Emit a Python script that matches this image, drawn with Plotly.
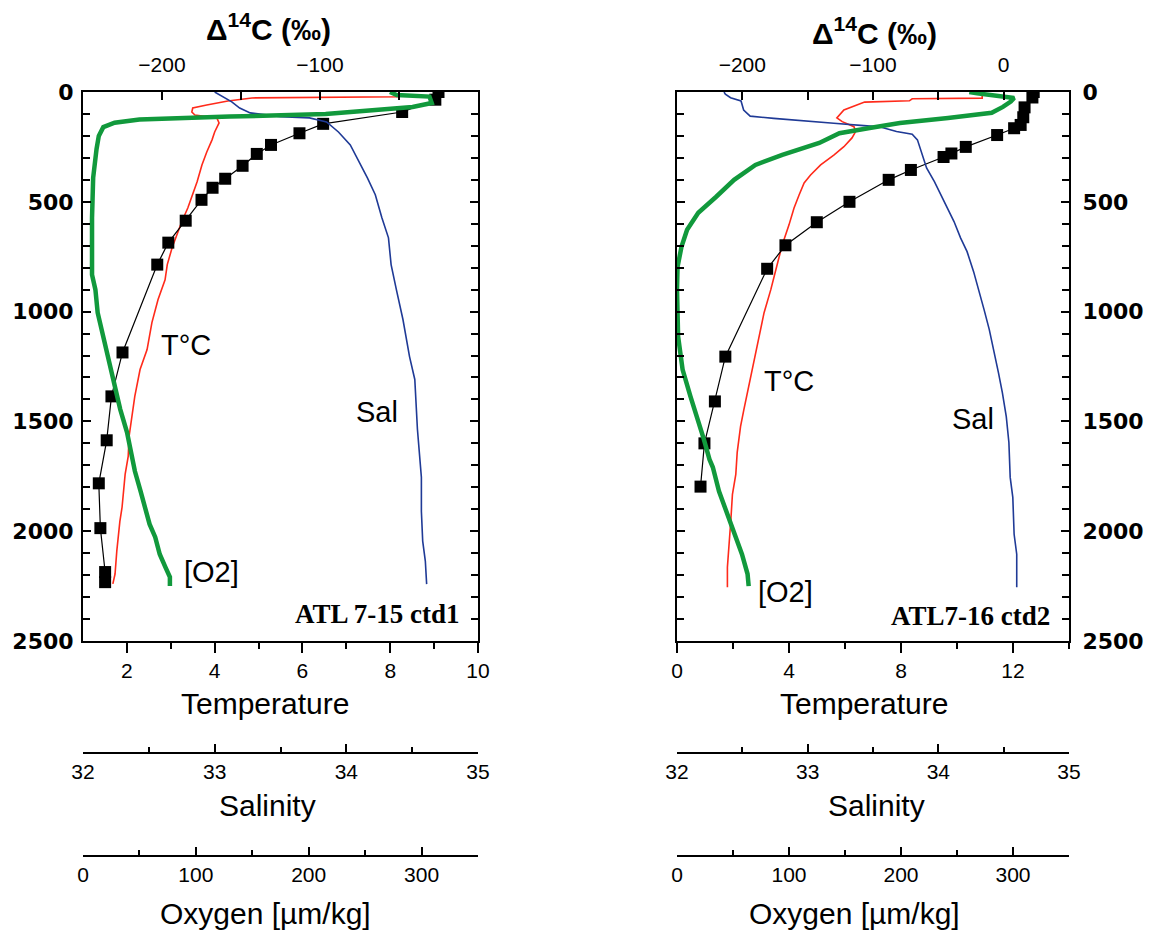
import plotly.graph_objects as go

# ---------------- data: ATL 7-15 ctd1 (left) ----------------
L_T_depth = [0, 22, 27, 41, 59, 73, 91, 105, 118, 141, 182, 218, 273, 332, 409, 468, 527, 591, 650, 709, 786,
             855, 945, 1050, 1173, 1264, 1386, 1477, 1568, 1659, 1741, 1891, 1955, 2091, 2195, 2240]
L_T = [8.2, 8.2, 4.85, 4.3, 3.82, 3.5, 3.48, 3.55, 4.05, 4.1, 4.0, 3.94, 3.82, 3.71, 3.6, 3.5, 3.39, 3.25, 3.14, 3.03, 2.92,
       2.87, 2.71, 2.57, 2.46, 2.30, 2.18, 2.12, 2.05, 2.03, 1.96, 1.89, 1.84, 1.77, 1.73, 1.68]

L_S_depth = [0, 14, 45, 73, 95, 112, 118, 136, 182, 241, 318, 391, 468, 573, 664, 786, 900, 1036, 1205, 1309,
             1536, 1673, 1755, 1909, 2045, 2136, 2241]
L_S = [33.0, 33.04, 33.13, 33.19, 33.27, 33.50, 33.72, 33.85, 33.94, 34.03, 34.10, 34.16, 34.22, 34.27, 34.32, 34.34,
       34.38, 34.43, 34.48, 34.52, 34.54, 34.56, 34.57, 34.57, 34.58, 34.60, 34.61]

L_O_depth = [0, 14, 21, 50, 68, 82, 100, 112, 117, 125, 140, 160, 200, 260, 391, 573, 832, 900, 1005, 1114, 1232,
             1341, 1445, 1550, 1659, 1727, 1818, 1891, 1968, 2027, 2105, 2164, 2209, 2250]
L_O = [272, 278, 307, 309, 292, 260, 215, 130, 90, 50, 28, 18, 14, 12, 9, 8, 8, 11, 13, 18, 24,
       28, 33, 39, 43, 46, 51, 55, 59, 64, 68, 73, 77, 77]

L_C_depth = [0, 35, 91, 145, 188, 241, 282, 336, 395, 436, 491, 586, 686, 786, 1186, 1386, 1586, 1782, 1986, 2186, 2232]
L_C = [-25, -27, -48, -98, -113, -131, -140, -149, -160, -168, -175, -185, -196, -203, -225, -232, -235, -240, -239,
       -236, -236]

# ---------------- data: ATL7-16 ctd2 (right) ----------------
R_T_depth = [0, 28, 31, 40, 46, 55, 82, 118, 135, 158, 180, 209, 249, 287, 332, 378, 414, 469, 528, 605, 651, 696,
             755, 817, 900, 1005, 1114, 1218, 1323, 1445, 1523, 1641, 1741, 1832, 1955, 2045, 2164, 2255]
R_T = [10.9, 10.9, 8.4, 8.3, 6.7, 6.5, 5.96, 5.71, 5.9, 6.32, 6.38, 6.25, 5.96, 5.6, 5.13, 4.77, 4.54, 4.36, 4.18, 4.0,
       3.88, 3.76, 3.64, 3.52, 3.35, 3.11, 2.93, 2.75, 2.57, 2.39, 2.27, 2.15, 2.10, 1.98, 1.92, 1.86, 1.80, 1.80]

R_S_depth = [0, 10, 26, 41, 82, 110, 120, 127, 142, 153, 158, 180, 192, 218, 271, 346, 408, 469, 528, 590, 664, 727,
             818, 900, 991, 1082, 1187, 1278, 1369, 1478, 1596, 1755, 1846, 2014, 2105, 2255]
R_S = [32.36, 32.37, 32.41, 32.49, 32.51, 32.56, 32.74, 32.87, 33.20, 33.43, 33.55, 33.68, 33.80, 33.84, 33.87, 33.91,
       33.97, 34.02, 34.07, 34.12, 34.17, 34.22, 34.27, 34.31, 34.35, 34.39, 34.43, 34.46, 34.49, 34.52, 34.54, 34.55,
       34.57, 34.58, 34.60, 34.60]

R_O_depth = [0, 6, 27, 44, 68, 95, 118, 141, 164, 188, 232, 286, 332, 400, 477, 550, 627, 705, 796, 900, 1114, 1264,
             1386, 1477, 1582, 1673, 1709, 1818, 1923, 2014, 2105, 2195, 2250]
R_O = [261, 268, 301, 298, 291, 281, 242, 199, 172, 145, 127, 94, 70, 51, 35, 19, 9, 4, 0.5, 0, 1, 5,
       12, 18, 24, 29, 32, 37.5, 45, 51, 58, 63, 64]

R_C_depth = [0, 25, 70, 115, 150, 165, 196, 250, 280, 296, 355, 400, 500, 593, 698, 805, 1205, 1409, 1600, 1797]
R_C = [23, 22, 16, 15, 13, 8, -5, -29, -40, -46, -71, -88, -118, -143, -167, -181, -213, -221, -229, -232]

# tick values
DEPTH_TICKS = [0, 500, 1000, 1500, 2000, 2500]
L_TEMP_TICKS = [2, 4, 6, 8, 10]
R_TEMP_TICKS = [0, 4, 8, 12]
L_C14_TICKS = [-200, -100]
R_C14_TICKS = [-200, -100, 0]
SAL_TICKS = [32, 33, 34, 35]
OXY_TICKS = [0, 100, 200, 300]

# ---------------- geometry (page pixels -> paper) ----------------
OFF = 8  # default page body margin
W, H = 1157 - OFF, 936 - OFF
def fx(px):
    return (px - OFF) / W
def fy(py):
    return 1 - (py - OFF) / H

LDOM = [fx(83), fx(478)]
RDOM = [fx(677), fx(1069)]
YDOM = [fy(641), fy(92)]
SAL_POS = fy(753)
OXY_POS = fy(856)

RED = "#ff2a1a"
BLUE = "#1f3a96"
GREEN = "#11993c"
FONT = "Liberation Sans"

fig = go.Figure()

def add_panel(suffix_t, suffix_c, suffix_s, suffix_o, yax, T_d, T, S_d, S, O_d, O, C_d, C):
    fig.add_trace(go.Scatter(x=S, y=S_d, xaxis=suffix_s, yaxis=yax, mode="lines",
                             line=dict(color=BLUE, width=1.6), showlegend=False))
    fig.add_trace(go.Scatter(x=T, y=T_d, xaxis=suffix_t, yaxis=yax, mode="lines",
                             line=dict(color=RED, width=1.6), showlegend=False))
    fig.add_trace(go.Scatter(x=O, y=O_d, xaxis=suffix_o, yaxis=yax, mode="lines",
                             line=dict(color=GREEN, width=4.5), showlegend=False))
    fig.add_trace(go.Scatter(x=C, y=C_d, xaxis=suffix_c, yaxis=yax, mode="lines+markers",
                             line=dict(color="black", width=1.2),
                             marker=dict(symbol="square", size=12, color="black"), showlegend=False))

add_panel("x", "x2", "x3", "x4", "y", L_T_depth, L_T, L_S_depth, L_S, L_O_depth, L_O, L_C_depth, L_C)
add_panel("x5", "x6", "x7", "x8", "y2", R_T_depth, R_T, R_S_depth, R_S, R_O_depth, R_O, R_C_depth, R_C)

tickf = dict(family=FONT, size=21, color="black")
depthf = dict(family="DejaVu Sans", size=22, color="black", weight="bold")

common = dict(showgrid=False, zeroline=False, showline=True, linecolor="black", linewidth=2,
              tickcolor="black", tickwidth=1.5, tickfont=tickf, automargin=False)

def temp_axis(dom, anchor, rng, tv, minor_tv):
    return dict(common, domain=dom, anchor=anchor, range=rng, tickmode="array", tickvals=tv,
                ticks="outside", ticklen=10,
                minor=dict(tickmode="array", tickvals=minor_tv, ticks="outside", ticklen=6,
                           tickcolor="black", tickwidth=1.5))

def c14_axis(over, anchor, rng, tv, minor_tv):
    return dict(common, overlaying=over, anchor=anchor, side="top", range=rng, tickmode="array",
                tickvals=tv, ticks="inside", ticklen=8, ticklabelstandoff=10,
                minor=dict(tickmode="array", tickvals=minor_tv, ticks="inside", ticklen=8,
                           tickcolor="black", tickwidth=1.5))

def free_axis(over, pos, rng, tv, minor_tv):
    return dict(common, overlaying=over, anchor="free", position=pos, side="bottom", range=rng,
                tickmode="array", tickvals=tv, ticks="inside", ticklen=8,
                minor=dict(tickmode="array", tickvals=minor_tv, ticks="inside", ticklen=5,
                           tickcolor="black", tickwidth=1.5))

def depth_axis(anchor, side, standoff):
    return dict(common, domain=YDOM, anchor=anchor, side=side, range=[2500, 0], tickmode="array",
                tickvals=DEPTH_TICKS, ticks="inside", ticklen=8, mirror="ticks", tickfont=depthf,
                ticklabelstandoff=standoff,
                minor=dict(dtick=100, ticks="inside", ticklen=7, tickcolor="black", tickwidth=1.5))

fig.update_layout(
    width=W, height=H, margin=dict(l=0, r=0, t=0, b=0, autoexpand=False),
    paper_bgcolor="white", plot_bgcolor="white",
    font=dict(family=FONT, color="black"),
    xaxis=temp_axis(LDOM, "y", [1, 10], L_TEMP_TICKS, [3, 5, 7, 9]),
    xaxis2=c14_axis("x", "y", [-250, 0], L_C14_TICKS, [-150, -50]),
    xaxis3=free_axis("x", SAL_POS, [32, 35], SAL_TICKS, [32.5, 33.5, 34.5]),
    xaxis4=free_axis("x", OXY_POS, [0, 350], OXY_TICKS, [50, 150, 250, 350]),
    xaxis5=temp_axis(RDOM, "y2", [0, 14], R_TEMP_TICKS, [2, 6, 10, 14]),
    xaxis6=c14_axis("x5", "y2", [-250, 50], R_C14_TICKS, [-150, -50, 50]),
    xaxis7=free_axis("x5", SAL_POS, [32, 35], SAL_TICKS, [32.5, 33.5, 34.5]),
    xaxis8=free_axis("x5", OXY_POS, [0, 350], OXY_TICKS, [50, 150, 250, 350]),
    yaxis=depth_axis("x", "left", 3),
    yaxis2=depth_axis("x5", "right", 7),
)

titlef = dict(family=FONT, size=30, color="black")
c14f = dict(family=FONT, size=30, color="black", weight="bold")
ann = []
def paper_text(txt, px, py, font):
    ann.append(dict(text=txt, x=fx(px), y=fy(py), xref="paper", yref="paper", showarrow=False,
                    xanchor="center", yanchor="middle", font=font))

C14_TITLE = "\u0394<sup>14</sup>C (\u2030)"
paper_text(C14_TITLE, 268, 27, c14f)
paper_text(C14_TITLE, 874, 31, c14f)
paper_text("Temperature", 265, 703, titlef)
paper_text("Temperature", 864, 703, titlef)
paper_text("Salinity", 267, 805, titlef)
paper_text("Salinity", 876, 805, titlef)
paper_text("Oxygen [\u00b5m/kg]", 265, 913, titlef)
paper_text("Oxygen [\u00b5m/kg]", 854, 913, titlef)

labf = dict(family=FONT, size=29, color="black")
stf = dict(family="Liberation Serif", size=27, color="black", weight="bold")
def data_text(txt, x, y, xa, ya, font, xanchor="center"):
    ann.append(dict(text=txt, x=x, y=y, xref=xa, yref=ya, showarrow=False, xanchor=xanchor,
                    yanchor="middle", font=font))

data_text("T\u00b0C", 3.35, 1150, "x", "y", labf)
data_text("Sal", 7.70, 1455, "x", "y", labf)
data_text("[O2]", 3.92, 2186, "x", "y", labf)
data_text("ATL 7-15 ctd1", 9.63, 2377, "x", "y", stf, "right")
data_text("T\u00b0C", 4.0, 1318, "x5", "y2", labf)
data_text("Sal", 10.57, 1491, "x5", "y2", labf)
data_text("[O2]", 3.89, 2277, "x5", "y2", labf)
data_text("ATL7-16 ctd2", 13.39, 2386, "x5", "y2", stf, "right")

fig.update_layout(annotations=ann)
fig.write_html("out.html")
